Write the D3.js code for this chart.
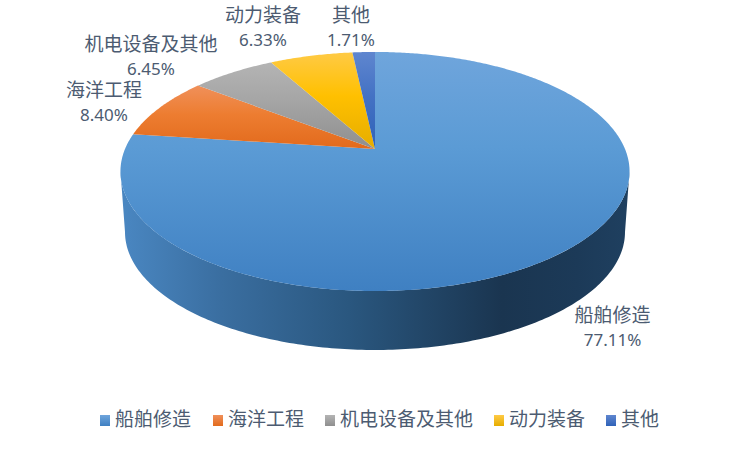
<!DOCTYPE html>
<html><head><meta charset="utf-8">
<script src="https://cdn.jsdelivr.net/npm/d3@7/dist/d3.min.js"></script>
<style>
html,body{margin:0;padding:0;background:#fff}
svg{display:block}
text{fill:#4c5b71;font-family:"Noto Sans CJK SC","Noto Sans",sans-serif}
</style></head><body>
<svg id="c" width="750" height="451"></svg>
<script>
const categories = ["船舶修造","海洋工程","机电设备及其他","动力装备","其他"];
const shares = [77.11,8.40,6.45,6.33,1.71];
const shareLabels = ["77.11%","8.40%","6.45%","6.33%","1.71%"];
const topColors = ["#6fa5dc","#f0905a","#b4b4b4","#ffca45","#5f86cf"];
const midColors = ["#5b9bd5","#ed7d31","#a5a5a5","#ffc000","#4472c4"];
const lowColors = ["#3f80c2","#e26a1c","#8f8f8f","#e6ad00","#2f62b8"];

const W=750,H=451;
const svg=d3.select("#c");
const defs=svg.append("defs");

// perspective projection of the unit disc onto the page
const cx=375, apexY=149, A=250, C=115.3, k=0.1883;
const project=(t)=>{const x=Math.sin(t), z=-Math.cos(t), w=1-k*z; return [cx+A*x/w, apexY+C*z/w];};
const apex=[cx,apexY];

const pie=d3.pie().sort(null).value(d=>d)(shares);
const line=d3.line();
const rim=(a,b)=>{const n=Math.max(2,Math.ceil((b-a)/0.01));return d3.range(n+1).map(i=>project(a+(b-a)*i/n));};

// side wall: front half of the top rim down to the lower rim
const botCy=232, botRx=250, botRy=118;
const topFront=d3.range(0,181).map(i=>{const p=i/180*Math.PI;return [cx+254.5*Math.cos(p),171.5+119.5*Math.sin(p)];});
const botFront=d3.range(0,181).map(i=>{const p=Math.PI-i/180*Math.PI;return [cx+botRx*Math.cos(p),botCy+botRy*Math.sin(p)];});
const side=defs.append("linearGradient").attr("id","side").attr("gradientUnits","userSpaceOnUse")
  .attr("x1",120).attr("x2",629).attr("y1",0).attr("y2",0);
[[0,"#4a87c2"],[0.2,"#3a6ea0"],[0.45,"#2a577f"],[0.75,"#1a3550"],[0.9,"#1c3a58"],[1,"#1f4060"]]
  .forEach(s=>side.append("stop").attr("offset",s[0]).attr("stop-color",s[1]));
svg.append("path").attr("d",line(topFront.concat(botFront))+"Z").attr("fill","url(#side)");

// gradients and slices
pie.forEach((d,i)=>{
  const g=defs.append("linearGradient").attr("id","g"+i).attr("x1",0).attr("x2",0).attr("y1",0).attr("y2",1);
  g.append("stop").attr("offset",0).attr("stop-color",topColors[i]);
  g.append("stop").attr("offset",i===0?0.4:0.45).attr("stop-color",midColors[i]);
  g.append("stop").attr("offset",1).attr("stop-color",lowColors[i]);
  svg.append("path").attr("d",line([apex,...rim(d.startAngle,d.endAngle)])+"Z").attr("fill",`url(#g${i})`);
});

// data labels (centre x, first baseline y)
const labelAt=[[612.5,322],[104,97],[151,51],[263,22],[351,22]];
categories.forEach((c,i)=>{
  const t=svg.append("text").attr("text-anchor","middle");
  t.append("tspan").attr("x",labelAt[i][0]).attr("y",labelAt[i][1]).style("font-size","19px").text(c);
  t.append("tspan").attr("x",labelAt[i][0]).attr("y",labelAt[i][1]+24)
    .style("font-family","'Noto Sans',sans-serif").style("font-size","17px").text(shareLabels[i]);
});

// legend
const legendX=[100,213,325,494,606];
categories.forEach((c,i)=>{
  const lg=defs.append("linearGradient").attr("id","l"+i).attr("x1",0).attr("x2",0).attr("y1",0).attr("y2",1);
  lg.append("stop").attr("offset",0).attr("stop-color",topColors[i]);
  lg.append("stop").attr("offset",1).attr("stop-color",lowColors[i]);
  svg.append("rect").attr("x",legendX[i]).attr("y",415).attr("width",10).attr("height",11).attr("fill",`url(#l${i})`);
  svg.append("text").attr("x",legendX[i]+15).attr("y",426).style("font-size","19px").text(c);
});
</script></body></html>
